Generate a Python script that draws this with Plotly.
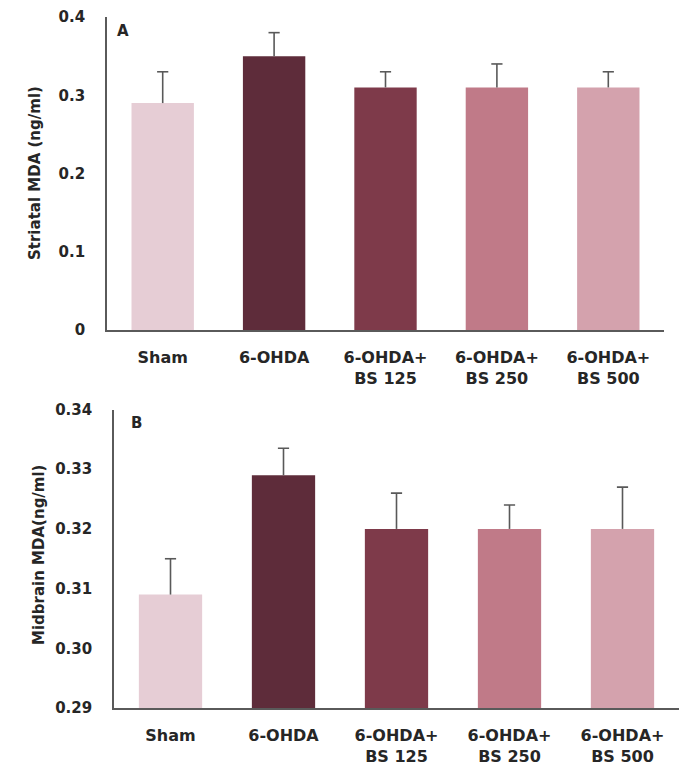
import plotly.graph_objects as go

# ---- data ----
groups = ["Sham", "6-OHDA", "6-OHDA+<br>BS 125", "6-OHDA+<br>BS 250", "6-OHDA+<br>BS 500"]
colors = ["#E6CDD5", "#5E2C3A", "#7E3A4A", "#C07A88", "#D4A2AD"]

striatal_mda = [0.29, 0.35, 0.31, 0.31, 0.31]
striatal_err = [0.04, 0.03, 0.02, 0.03, 0.02]

midbrain_mda = [0.309, 0.329, 0.320, 0.320, 0.320]
midbrain_err = [0.006, 0.0045, 0.006, 0.004, 0.007]

ticks_a = [0, 0.1, 0.2, 0.3, 0.4]
ticks_b = [0.29, 0.30, 0.31, 0.32, 0.33, 0.34]

W, H = 687, 772
FONT = "DejaVu Sans"
TXT = "#262626"
AX = "#5a5a5a"
ERR = "#595959"


def px(x):
    return x / W


def py(y):
    return 1 - y / H


fig = go.Figure()

for vals, errs, xa, ya in [
    (striatal_mda, striatal_err, "x", "y"),
    (midbrain_mda, midbrain_err, "x2", "y2"),
]:
    fig.add_trace(go.Bar(
        x=groups, y=vals, marker=dict(color=colors, line=dict(width=0)),
        error_y=dict(type="data", symmetric=False, array=errs,
                     arrayminus=[0] * len(errs), width=0,
                     color=ERR, thickness=1.6),
        xaxis=xa, yaxis=ya, showlegend=False, hoverinfo="skip",
    ))
    fig.add_trace(go.Scatter(
        x=groups, y=[v + e for v, e in zip(vals, errs)], mode="markers",
        marker=dict(symbol="line-ew", size=8,
                    line=dict(width=1.6, color=ERR)),
        xaxis=xa, yaxis=ya, showlegend=False, hoverinfo="skip",
    ))

tickfont = dict(family=FONT, size=15, color=TXT, weight="bold")
xfont = dict(family=FONT, size=16, color=TXT, weight="bold")

common_x = dict(type="category", showgrid=False, zeroline=False,
                showline=True, linecolor=AX, linewidth=1.6,
                ticks="", tickfont=xfont, ticklabelstandoff=12,
                fixedrange=True, automargin=False)
common_y = dict(showgrid=False, zeroline=False, showline=True,
                linecolor=AX, linewidth=1.6, ticks="", tickfont=tickfont,
                ticklabelstandoff=17, fixedrange=True, automargin=False)

title_font = dict(family=FONT, size=15, color=TXT, weight="bold")

fig.update_layout(
    width=W, height=H,
    margin=dict(l=0, r=0, t=0, b=0),
    paper_bgcolor="white", plot_bgcolor="white",
    bargap=0.44,
    xaxis=dict(domain=[px(99), px(656)], anchor="y", **common_x),
    yaxis=dict(domain=[py(322), py(9)], anchor="x", range=[0, 0.4],
               tickvals=ticks_a, ticktext=["0", "0.1", "0.2", "0.3", "0.4"],
               **common_y),
    xaxis2=dict(domain=[px(106), px(671)], anchor="y2", **common_x),
    yaxis2=dict(domain=[py(700), py(401.5)], anchor="x2", range=[0.29, 0.34],
                tickvals=ticks_b, tickformat=".2f", **common_y),
    annotations=[
        dict(text="Striatal MDA (ng/ml)", x=px(27), y=py(165), xref="paper",
             yref="paper", textangle=-90, showarrow=False,
             xanchor="center", yanchor="middle", font=title_font),
        dict(text="Midbrain MDA(ng/ml)", x=px(31), y=py(547), xref="paper",
             yref="paper", textangle=-90, showarrow=False,
             xanchor="center", yanchor="middle", font=title_font),
        dict(text="A", x=px(115), y=py(23), xref="paper", yref="paper",
             showarrow=False, xanchor="center", yanchor="middle",
             font=dict(family=FONT, size=15, color=TXT, weight="bold")),
        dict(text="B", x=px(128), y=py(415), xref="paper", yref="paper",
             showarrow=False, xanchor="center", yanchor="middle",
             font=dict(family=FONT, size=15, color=TXT, weight="bold")),
    ],
)

fig.write_html("out.html")
